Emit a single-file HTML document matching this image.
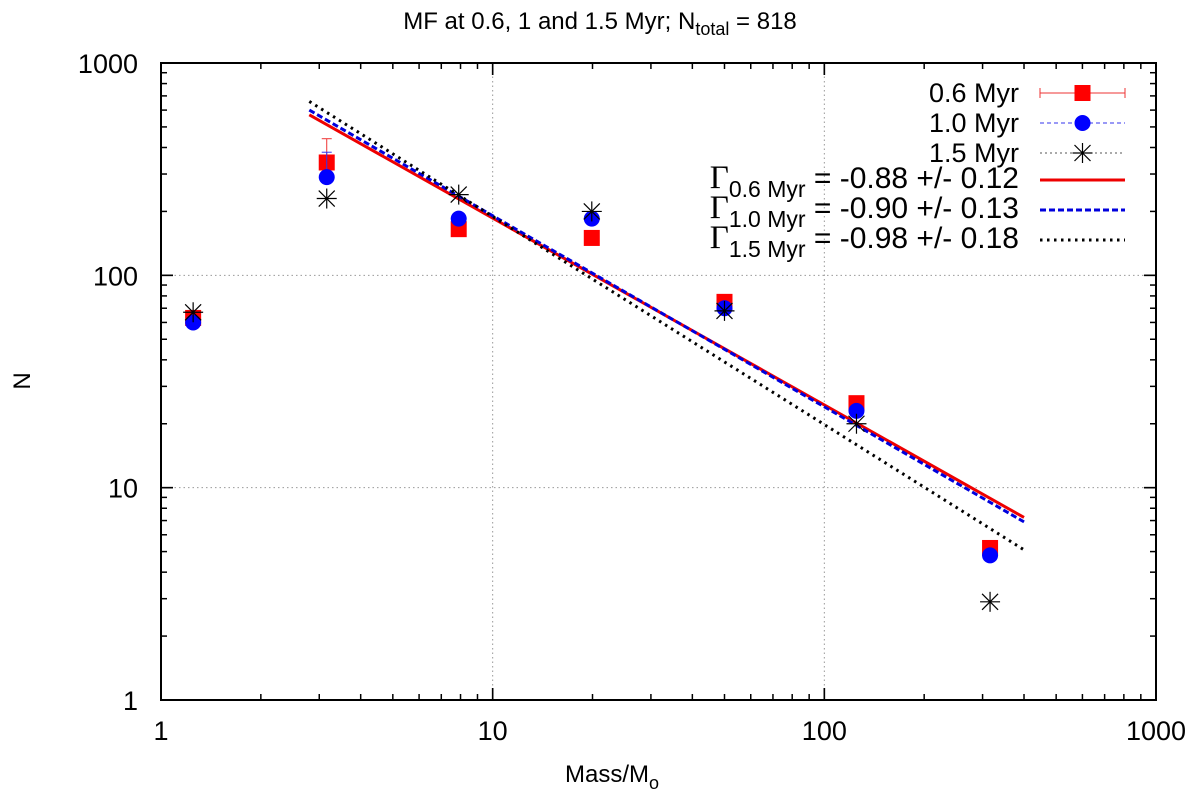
<!DOCTYPE html>
<html><head><meta charset="utf-8"><style>
body{margin:0;background:#fff;}
svg{display:block;font-family:"Liberation Sans",sans-serif;}
</style></head><body>
<svg id="chart" width="1200" height="793">
<text x="600" y="29" font-size="24" text-anchor="middle">MF at 0.6, 1 and 1.5 Myr; N<tspan font-size="18" dy="6">total</tspan><tspan dy="-6"> = 818</tspan></text>
<text x="612" y="782" font-size="24" text-anchor="middle">Mass/M<tspan font-size="18" dy="7">o</tspan></text>
<text x="22" y="389" font-size="24" text-anchor="middle" transform="rotate(-90 22 381)">N</text>
<g id="grid"></g><g id="axes"></g><g id="marks"></g><g id="legend"></g>
</svg>
<script>
const masses=[1.25,3.16,7.9,19.9,50,125,316];
const n06=[63,340,165,150,75,25,5.2];
const n10=[60,290,185,185,70,23,4.8];
const n15=[67,230,240,200,68,20,2.9];
const err06Top=[63,440,165,150,75,25,5.2];
const err10Top=[60,380,185,185,70,23,4.8];
const gammas=[-0.88,-0.90,-0.98];
const amps=[1411,1516,1808];
const fitRange=[2.8,400];
const xTicks=[1,10,100,1000];
const yTicks=[1,10,100,1000];

const L=161,R=1156,T=63,B=700;
const X=v=>L+(Math.log10(v))/3*(R-L);
const Y=v=>B-(Math.log10(v))/3*(B-T);
const NS="http://www.w3.org/2000/svg";
function mk(tag,attrs,parent){const e=document.createElementNS(NS,tag);for(const k in attrs)e.setAttribute(k,attrs[k]);parent.appendChild(e);return e;}
const grid=document.getElementById('grid'),axes=document.getElementById('axes'),marks=document.getElementById('marks'),leg=document.getElementById('legend');

xTicks.forEach(t=>{
 if(t>1&&t<1000){const g=mk('line',{x1:X(t),x2:X(t),y1:T,y2:B,stroke:'#999','stroke-dasharray':'1.5,3'},grid);
 
 }
 const tx=mk('text',{x:X(t),y:B+40,'font-size':27,'text-anchor':'middle'},axes);tx.textContent=t;
 
 
});
yTicks.forEach(t=>{
 if(t>1&&t<1000){const g=mk('line',{x1:L,x2:R,y1:Y(t),y2:Y(t),stroke:'#999','stroke-dasharray':'1.5,3'},grid);
 
 }
 const tx=mk('text',{x:L-23,y:Y(t)+10,'font-size':27,'text-anchor':'end'},axes);tx.textContent=t;
 
 
});
for(let d=0;d<3;d++)for(let k=1;k<=10;k++){
 const v=Math.pow(10,d)*k,len=k===10||k===1?12:6;
 mk('line',{x1:X(v),x2:X(v),y1:B,y2:B-len,stroke:'#000','stroke-width':1.5},axes);
 mk('line',{x1:X(v),x2:X(v),y1:T,y2:T+len,stroke:'#000','stroke-width':1.5},axes);
 mk('line',{x1:L,x2:L+len,y1:Y(v),y2:Y(v),stroke:'#000','stroke-width':1.5},axes);
 mk('line',{x1:R,x2:R-len,y1:Y(v),y2:Y(v),stroke:'#000','stroke-width':1.5},axes);
}
const frame=mk('rect',{x:L,y:T,width:R-L,height:B-T,fill:'none',stroke:'#000','stroke-width':2},axes);



const fitStyles=[{s:'#e00',w:3,d:''},{s:'#00d',w:3,d:'6,3'},{s:'#000',w:3,d:'2.5,4.5'}];
gammas.forEach((g,i)=>{
 const st=fitStyles[i];
 const ln=mk('line',{x1:X(fitRange[0]),y1:Y(amps[i]*Math.pow(fitRange[0],g)),x2:X(fitRange[1]),y2:Y(amps[i]*Math.pow(fitRange[1],g)),stroke:st.s,'stroke-width':st.w,'stroke-dasharray':st.d},marks);
 
 
});

function square(x,y,p){return mk('rect',{x:x-8,y:y-8,width:16,height:16,fill:'#f00'},p);}
function circ(x,y,p){return mk('circle',{cx:x,cy:y,r:8,fill:'#00f'},p);}
function star(x,y,p){const g=mk('g',{stroke:'#000','stroke-width':1.2},p);
 mk('line',{x1:x-10,x2:x+10,y1:y,y2:y},g);mk('line',{x1:x,x2:x,y1:y-10,y2:y+10},g);
 mk('line',{x1:x-8,x2:x+8,y1:y-8,y2:y+8},g);mk('line',{x1:x-8,x2:x+8,y1:y+8,y2:y-8},g);return g;}

masses.forEach((m,i)=>{
 const x=X(m);
 const e1=mk('g',{stroke:'#e33','stroke-width':1},marks);
 mk('line',{x1:x,x2:x,y1:Y(n06[i]),y2:Y(err06Top[i])},e1);
 if(err06Top[i]>n06[i])mk('line',{x1:x-5,x2:x+5,y1:Y(err06Top[i]),y2:Y(err06Top[i])},e1);
 
 
 const a=square(x,Y(n06[i]),marks);
 
 
 const e2=mk('g',{stroke:'#33e','stroke-width':1},marks);
 mk('line',{x1:x,x2:x,y1:Y(n10[i]),y2:Y(err10Top[i])},e2);
 if(err10Top[i]>n10[i])mk('line',{x1:x-5,x2:x+5,y1:Y(err10Top[i]),y2:Y(err10Top[i])},e2);
 
 
 const b=circ(x,Y(n10[i]),marks);
 
 
 const c=star(x,Y(n15[i]),marks);
 
 
});

const lx1=1040,lx2=1125,tx=1019;
const rows=[93,123,153,180,210,240];
function ltext(y,html,name,fs,dy){const t=mk('text',{x:tx,y:y+dy,'font-size':fs,'text-anchor':'end'},leg);t.innerHTML=html;
 
 return t;}
ltext(rows[0],'0.6 Myr','legend-0.6-myr',27,9);
let g0=mk('g',{stroke:'#e33','stroke-width':1},leg);mk('line',{x1:lx1,x2:lx2,y1:rows[0],y2:rows[0]},g0);mk('line',{x1:lx1,x2:lx1,y1:rows[0]-5,y2:rows[0]+5},g0);mk('line',{x1:lx2,x2:lx2,y1:rows[0]-5,y2:rows[0]+5},g0);
square((lx1+lx2)/2,rows[0],leg);
ltext(rows[1],'1.0 Myr','legend-1.0-myr',27,9);
let g1=mk('g',{stroke:'#33e','stroke-width':1,'stroke-dasharray':'4,3'},leg);mk('line',{x1:lx1,x2:lx2,y1:rows[1],y2:rows[1]},g1);
circ((lx1+lx2)/2,rows[1],leg);
ltext(rows[2],'1.5 Myr','legend-1.5-myr',27,9);
mk('line',{x1:lx1,x2:lx2,y1:rows[2],y2:rows[2],stroke:'#555','stroke-dasharray':'2,3'},leg);
star((lx1+lx2)/2,rows[2],leg);
const labels=['0.6 Myr','1.0 Myr','1.5 Myr'],errs=['0.12','0.13','0.18'];
gammas.forEach((g,i)=>{
 const y=rows[3+i];
 ltext(y,'<tspan font-family="Liberation Serif" font-size="33">Γ</tspan><tspan font-size="23" dy="9">'+labels[i]+'</tspan><tspan dy="-9"> = '+g.toFixed(2)+' +/- '+errs[i]+'</tspan>','legend-fit-'+i,30,8);
 const st=fitStyles[i];
 mk('line',{x1:lx1,x2:lx2,y1:y,y2:y,stroke:st.s,'stroke-width':st.w,'stroke-dasharray':st.d},leg);
});
</script>
</body></html>
